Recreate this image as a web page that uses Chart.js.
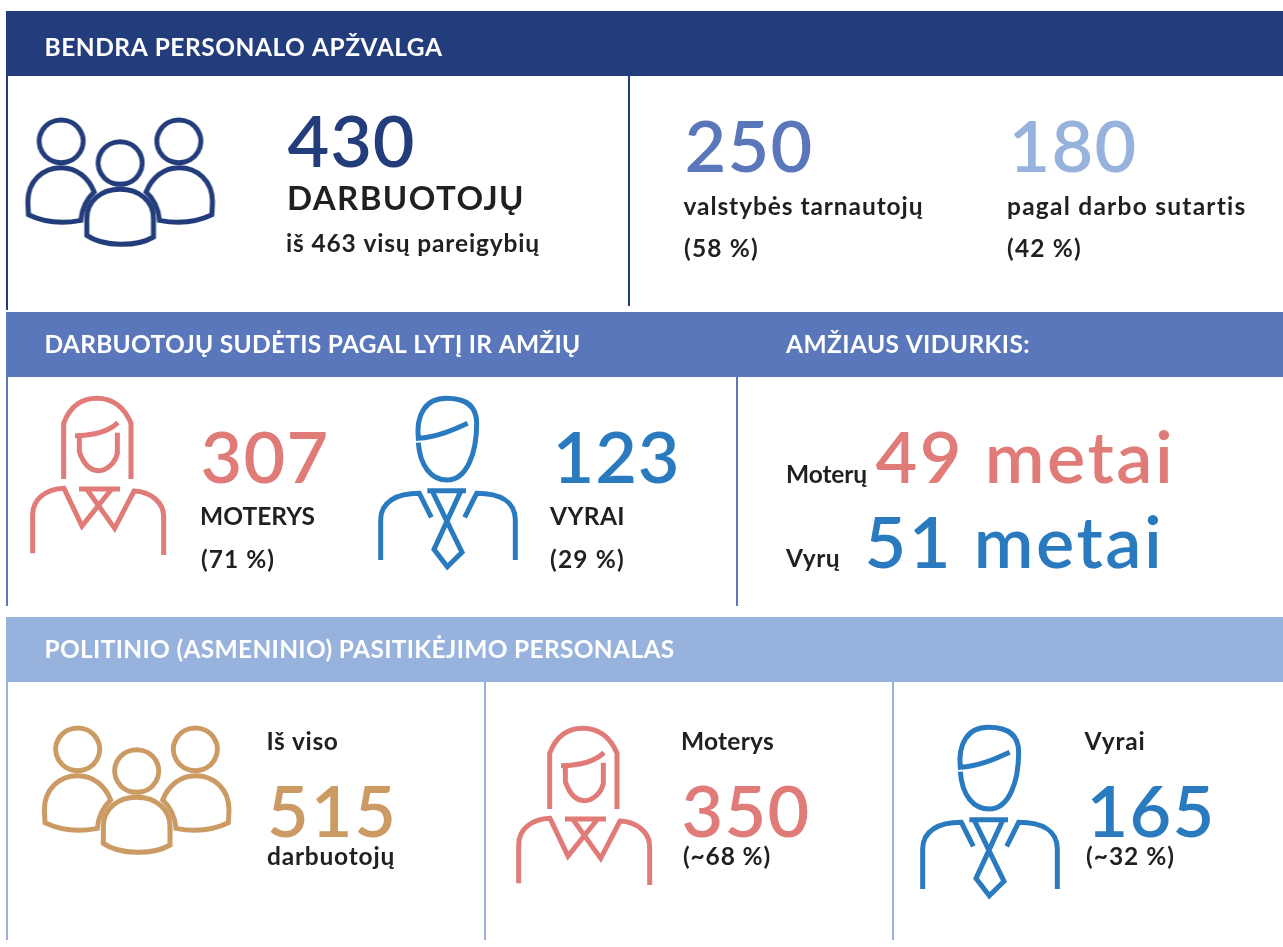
<!DOCTYPE html>
<html lang="lt">
<head>
<meta charset="utf-8">
<title>Bendra personalo apžvalga</title>
<script src="https://cdn.jsdelivr.net/npm/chart.js@4"></script>
<style>
    html, body { margin: 0; padding: 0; background: #fff; }
    canvas { display: block; }
</style>
</head>
<body>
<canvas id="infographic" width="1283" height="947"></canvas>
<script>
// --- Data ---
const sectionTitles = ['BENDRA PERSONALO APŽVALGA', 'DARBUOTOJŲ SUDĖTIS PAGAL LYTĮ IR AMŽIŲ', 'AMŽIAUS VIDURKIS:', 'POLITINIO (ASMENINIO) PASITIKĖJIMO PERSONALAS'];
const staffValues = [430, 250, 180];
const staffPercents = [58, 42];
const staffLabels = ['DARBUOTOJŲ', 'valstybės tarnautojų', 'pagal darbo sutartis'];
const totalPositions = [463];
const genderValues = [307, 123];
const genderPercents = [71, 29];
const genderLabels = ['MOTERYS', 'VYRAI'];
const ageLabels = ['Moterų', 'Vyrų'];
const ageValues = [49, 51];
const trustValues = [515, 350, 165];
const trustPercents = [68, 32];
const trustLabels = ['Iš viso', 'Moterys', 'Vyrai'];

// --- Colours ---
const NAVY = '#233c7b', BLUE = '#5a77bb', PALE = '#98b2de', ROSE = '#e07b78', SKY = '#2a7abf', TAN = '#cc9a63', INK = '#231f20';

// --- Layout, in page pixels ---
const bands = [[6, 11, 65, NAVY], [6, 312, 65, BLUE], [6, 617, 65, PALE]];
const rules = [
    [7, 76, 310, NAVY], [629, 76, 306, NAVY],
    [7, 377, 606, BLUE], [737, 377, 606, BLUE],
    [7, 682, 940, PALE], [485, 682, 940, PALE], [893, 682, 940, PALE]
];
const BIG = 600, BOLD = 700, LABEL = 24.5, HUGE = 72;
// text, x, baseline, target width, size, weight, colour
const texts = [
    [sectionTitles[0], 44.5, 56, 398, LABEL, BOLD, '#fff'],
    [sectionTitles[1], 44.5, 353, 536, LABEL, BOLD, '#fff'],
    [sectionTitles[2], 786, 353, 244, LABEL, BOLD, '#fff'],
    [sectionTitles[3], 44.5, 658, 630, LABEL, BOLD, '#fff'],

    [String(staffValues[0]), 287.5, 167, 128, HUGE, BIG, NAVY],
    [staffLabels[0], 287, 210, 238, 33, BOLD, INK],
    ['iš ' + totalPositions[0] + ' visų pareigybių', 286, 252, 254, LABEL, BOLD, INK],
    [String(staffValues[1]), 684.5, 172, 129, HUGE, BIG, BLUE],
    [String(staffValues[2]), 1008.5, 172, 129, HUGE, BIG, PALE],
    [staffLabels[1], 683.5, 215, 240, LABEL, BOLD, INK],
    [staffLabels[2], 1007, 215, 240, LABEL, BOLD, INK],
    ['(' + staffPercents[0] + ' %)', 684, 257, 75, LABEL, BOLD, INK],
    ['(' + staffPercents[1] + ' %)', 1007, 257, 75, LABEL, BOLD, INK],

    [String(genderValues[0]), 200.5, 483, 129, HUGE, BIG, ROSE],
    [String(genderValues[1]), 552.5, 483, 128, HUGE, BIG, SKY],
    [genderLabels[0], 200, 525, 115, LABEL, BOLD, INK],
    [genderLabels[1], 550, 525, 75, LABEL, BOLD, INK],
    ['(' + genderPercents[0] + ' %)', 201, 568, 74, LABEL, BOLD, INK],
    ['(' + genderPercents[1] + ' %)', 550, 568, 75, LABEL, BOLD, INK],

    [ageLabels[0], 786, 483, 81, LABEL, BOLD, INK],
    [ageValues[0] + ' metai', 875.5, 483, 300, HUGE, BIG, ROSE],
    [ageLabels[1], 786, 567, 54, LABEL, BOLD, INK],
    [ageValues[1] + ' metai', 864.5, 568, 300, HUGE, BIG, SKY],

    [trustLabels[0], 266.5, 750, 72, LABEL, BOLD, INK],
    [trustLabels[1], 681, 750, 93, LABEL, BOLD, INK],
    [trustLabels[2], 1084.5, 750, 61, LABEL, BOLD, INK],
    [String(trustValues[0]), 267, 837, 131, HUGE, BIG, TAN],
    [String(trustValues[1]), 681.5, 837, 129, HUGE, BIG, ROSE],
    [String(trustValues[2]), 1086.5, 837, 129, HUGE, BIG, SKY],
    ['darbuotojų', 267, 865, 128, LABEL, BOLD, INK],
    ['(~' + trustPercents[0] + ' %)', 683, 865, 88, LABEL, BOLD, INK],
    ['(~' + trustPercents[1] + ' %)', 1086, 865, 89, LABEL, BOLD, INK]
];

// --- Icons, traced at 3x and used as point styles ---
const PEOPLE = [
    'M 173 54 a 66 64 0 1 0 0.1 0 Z',
    'M 526 54 a 66 64 0 1 0 0.1 0 Z',
    'M 350 119 a 66 64 0 1 0 0.1 0 Z',
    'M 232 355 Q 145 372 75 338 L 73 300 C 73 235 120 197 173 197 C 220 197 255 228 272 270 C 250 290 235 320 232 355 Z',
    'M 468 355 Q 555 372 625 338 L 627 300 C 627 235 580 197 527 197 C 480 197 445 228 428 270 C 450 290 465 320 468 355 Z',
    'M 250 400 L 250 350 C 250 295 295 262 350 262 C 405 262 450 295 450 350 L 450 405 C 400 435 300 435 250 400 Z'
];
const WOMAN = [
    'M 191 297 L 191 130 C 210 80 245 55 290 55 C 335 55 372 80 393 130 L 393 297',
    'M 225 167 C 270 167 320 160 354 128',
    'M 238 170 L 238 215 C 250 250 270 272 295 272 C 320 272 345 250 352 220 L 352 158',
    'M 98 520 L 98 405 C 98 355 140 327 192 325 L 246 438 L 335 327',
    'M 491 525 L 491 410 C 491 365 450 335 402 333 L 344 445 L 260 327',
    'M 237 327 L 360 327'
];
const MAN = [
    'M 175 188 C 180 260 215 300 262 300 C 320 300 350 220 350 130 C 350 80 320 55 260 55 C 195 55 168 105 175 175 C 230 172 280 150 323 130',
    'M 62 540 L 62 420 C 62 365 110 340 178 340 L 214 412',
    'M 466 540 L 466 420 C 466 365 420 340 350 340 L 314 412',
    'M 202 332 L 318 332',
    'M 216 332 L 306 517 L 262 560 L 222 508 L 303 332'
];

function makeIcon(paths, w, h, color, lineWidth) {
    const c = document.createElement('canvas');
    c.width = w;
    c.height = h;
    const g = c.getContext('2d');
    g.scale(1 / 3, 1 / 3);
    g.strokeStyle = color;
    g.lineWidth = lineWidth * 3;
    g.lineJoin = 'miter';
    paths.forEach(function (d) { g.stroke(new Path2D(d)); });
    return c;
}

const iconSpots = [
    { x: 120.5, y: 182, style: makeIcon(PEOPLE, 234, 160, NAVY, 5) },
    { x: 100, y: 480, style: makeIcon(WOMAN, 200, 200, ROSE, 5) },
    { x: 460, y: 480, style: makeIcon(MAN, 200, 200, SKY, 5) },
    { x: 137, y: 790, style: makeIcon(PEOPLE, 234, 160, TAN, 5) },
    { x: 586, y: 810, style: makeIcon(WOMAN, 200, 200, ROSE, 5) },
    { x: 1002, y: 809, style: makeIcon(MAN, 200, 200, SKY, 5) }
];

// --- Bands sit under everything, text on top ---
const bandsPlugin = {
    id: 'bands',
    beforeDatasetsDraw(chart) {
        const { ctx, scales: { x, y } } = chart;
        bands.forEach(function (b) {
            ctx.fillStyle = b[3];
            ctx.fillRect(x.getPixelForValue(b[0]), y.getPixelForValue(b[1]), x.getPixelForValue(1283) - x.getPixelForValue(b[0]), y.getPixelForValue(b[1] + b[2]) - y.getPixelForValue(b[1]));
        });
    }
};

const textPlugin = {
    id: 'texts',
    afterDatasetsDraw(chart) {
        const { ctx, scales: { x, y } } = chart;
        ctx.save();
        ctx.textBaseline = 'alphabetic';
        ctx.textAlign = 'left';
        texts.forEach(function (t) {
            ctx.font = t[5] + ' ' + t[4] + 'px Lato, sans-serif';
            ctx.letterSpacing = '0px';
            // stretch or squeeze the tracking so the line spans the width in the picture
            const spare = t[3] - ctx.measureText(t[0]).width;
            ctx.letterSpacing = (spare / t[0].length).toFixed(3) + 'px';
            ctx.fillStyle = t[6];
            ctx.fillText(t[0], x.getPixelForValue(t[1]), y.getPixelForValue(t[2]));
        });
        ctx.restore();
    }
};

const ruleSets = rules.map(function (r) {
    return {
        type: 'line',
        data: [{ x: r[0], y: r[1] }, { x: r[0], y: r[2] }],
        borderColor: r[3],
        borderWidth: 2,
        pointRadius: 0,
        showLine: true
    };
});

new Chart(document.getElementById('infographic'), {
    type: 'scatter',
    data: {
        datasets: ruleSets.concat([{
            data: iconSpots.map(function (s) { return { x: s.x, y: s.y }; }),
            pointStyle: iconSpots.map(function (s) { return s.style; }),
            pointRadius: 10,
            clip: false
        }])
    },
    options: {
        responsive: false,
        animation: false,
        layout: { padding: 0, autoPadding: false },
        plugins: { legend: { display: false }, tooltip: { enabled: false } },
        scales: {
            x: { type: 'linear', min: 0, max: 1283, display: false },
            y: { type: 'linear', min: 0, max: 947, reverse: true, display: false }
        }
    },
    plugins: [bandsPlugin, textPlugin]
});
</script>
</body>
</html>
